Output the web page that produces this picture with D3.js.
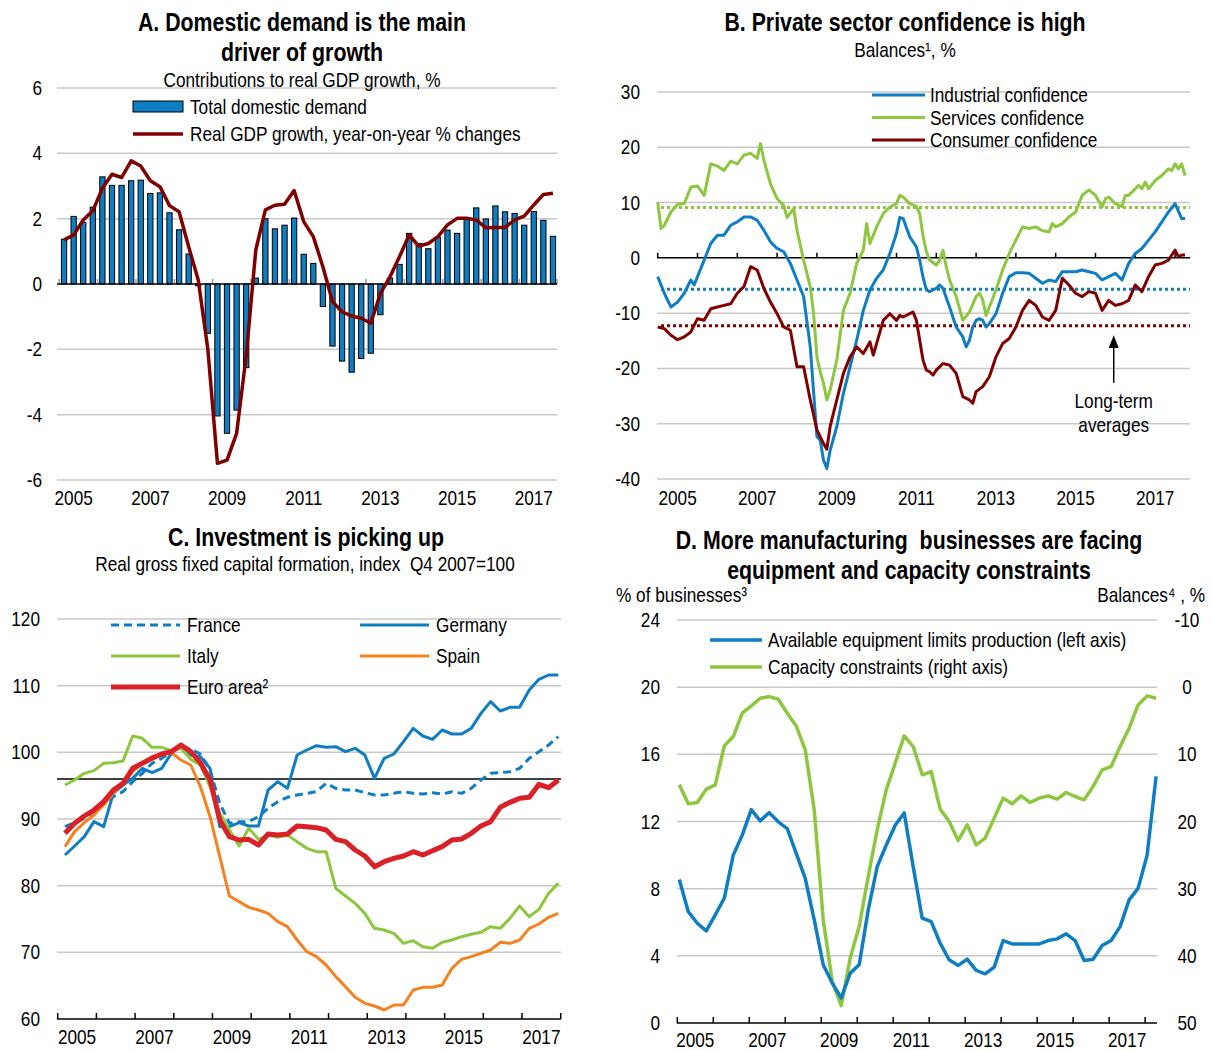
<!DOCTYPE html>
<html>
<head>
<meta charset="utf-8">
<script src="https://cdn.jsdelivr.net/npm/d3@7"></script>
<style>
body { margin: 0; background: #fff; }
text { font-family: "Liberation Sans", Arial, sans-serif; fill: #000; white-space: pre; }
</style>
</head>
<body>
<svg id="chart" width="1212" height="1050"></svg>
<script>
const YEARS = [2005, 2006, 2007, 2008, 2009, 2010, 2011, 2012, 2013, 2014, 2015, 2016, 2017]
const YEAR_LABELS = [2005, 2007, 2009, 2011, 2013, 2015, 2017]

// A. contributions to growth, quarterly 2005Q1-2017Q4
const quartersA = YEARS.flatMap(y => [1, 2, 3, 4].map(q => y + 'Q' + q))
const domesticDemand = [1.37, 2.07, 1.89, 2.35, 3.28, 3.02, 3.02, 3.16, 3.18, 2.77, 2.79, 2.18,
    1.66, 0.92, -0.05, -1.51, -4.04, -4.57, -3.86, -2.56, 0.18, 2.0, 1.69, 1.80,
    2.02, 0.91, 0.63, -0.69, -1.90, -2.36, -2.70, -2.28, -2.12, -0.94, 0.18, 0.60,
    1.55, 1.24, 1.08, 1.43, 1.65, 1.55, 2.0, 2.33, 1.99, 2.39, 2.21, 2.16, 1.80, 2.22, 1.95, 1.46]
const gdpGrowth = [1.35, 1.50, 1.96, 2.24, 2.93, 3.36, 3.26, 3.77, 3.61, 3.16, 2.98, 2.40,
    2.21, 1.14, 0.12, -2.0, -5.49, -5.39, -4.57, -2.2, 1.04, 2.27, 2.41, 2.44,
    2.86, 1.91, 1.45, 0.53, -0.54, -0.85, -0.98, -1.05, -1.20, -0.29, 0.22, 0.84,
    1.50, 1.16, 1.24, 1.45, 1.81, 2.01, 2.01, 1.96, 1.72, 1.73, 1.73, 1.96, 2.08, 2.42, 2.74, 2.78]
const ticksA = [-6, -4, -2, 0, 2, 4, 6]

// B. confidence balances, [months since Jan 2005, value]
const industrial = [[0,-3.4],[2,-6.4],[4,-8.9],[6,-8.0],[8,-6.4],[10,-4.0],[11,-4.9],[12,-3.4],[14,-0.4],[16,2.6],
    [18,4.1],[20,4.1],[22,5.9],[24,6.5],[26,7.4],[28,7.4],[30,6.8],[32,5.0],[34,2.9],[36,1.7],[38,1.1],[40,-1.0],
    [42,-4.0],[44,-7.0],[46,-16.1],[48,-32.3],[49,-33.0],[50,-36.6],[51,-38.1],[52,-34.8],[54,-30.5],[56,-24.5],
    [58,-19.7],[60,-14.9],[62,-9.5],[64,-5.8],[66,-3.7],[68,-2.2],[70,0.8],[72,4.4],[73,7.3],[74,7.1],[76,3.8],
    [78,2.0],[79,-0.4],[80,-3.5],[81,-5.8],[82,-6.1],[84,-5.5],[85,-4.9],[86,-5.5],[88,-8.9],[90,-12.5],[92,-14.3],
    [93,-16.1],[94,-14.9],[95,-12.5],[96,-11.3],[97,-11.0],[98,-11.3],[99,-12.5],[100,-11.9],[102,-10.1],[104,-6.4],
    [106,-3.4],[108,-2.7],[110,-2.7],[112,-2.8],[114,-3.7],[116,-4.6],[118,-4.0],[120,-4.3],[122,-2.5],[124,-2.5],
    [126,-2.5],[128,-2.2],[130,-2.5],[132,-2.8],[134,-4.0],[136,-3.4],[138,-2.8],[140,-4.0],[142,-1.0],[144,0.8],
    [146,1.7],[148,3.2],[150,4.7],[152,6.5],[154,8.3],[156,9.8],[158,7.1],[159,7.1]]
const services = [[0,10.1],[1,5.3],[2,5.9],[4,8.3],[6,9.7],[8,9.8],[10,12.8],[12,13.0],[14,11.3],[16,17.0],[18,16.6],
    [20,15.8],[22,17.5],[24,17.0],[26,18.6],[28,18.9],[30,18.0],[31,20.7],[32,17.7],[34,13.4],[36,10.7],[38,9.5],
    [39,7.3],[41,8.9],[42,5.0],[44,-0.4],[46,-5.2],[47,-10.0],[48,-17.9],[49,-20.6],[50,-22.7],[51,-25.7],
    [52,-23.9],[54,-18.5],[56,-9.5],[58,-6.4],[60,-1.0],[62,1.4],[63,6.2],[64,2.6],[66,5.6],[68,8.0],[70,9.2],
    [72,9.8],[73,11.3],[74,11.0],[76,9.8],[78,9.3],[79,8.0],[80,4.0],[81,1.1],[82,-0.4],[84,-1.3],[85,-0.4],
    [86,1.4],[87,-1.6],[88,-4.0],[90,-7.0],[92,-11.3],[94,-9.8],[96,-7.0],[97,-6.4],[98,-7.6],[99,-10.4],
    [100,-8.9],[102,-5.8],[104,-2.2],[106,0.8],[108,3.2],[110,5.6],[112,5.3],[114,5.6],[116,4.9],[118,4.7],
    [119,6.2],[120,5.6],[122,6.2],[124,7.4],[126,8.3],[128,11.3],[130,12.3],[132,11.3],[134,9.2],[135,10.7],
    [136,11.0],[138,9.8],[140,9.3],[141,11.3],[142,11.3],[144,12.5],[145,13.1],[146,12.5],[147,13.7],[148,12.5],
    [150,14.0],[152,14.9],[154,16.1],[155,15.8],[156,17.0],[157,16.1],[158,17.0],[159,14.9]]
const consumer = [[0,-12.5],[2,-12.8],[4,-14.0],[6,-14.8],[8,-14.3],[10,-13.4],[12,-11.0],[14,-11.3],[16,-9.2],
    [18,-8.9],[20,-8.6],[22,-8.3],[24,-6.4],[26,-5.2],[28,-1.6],[30,-2.2],[32,-5.5],[34,-8.0],[36,-10.1],
    [38,-12.5],[40,-13.1],[42,-19.7],[44,-19.7],[46,-25.7],[48,-31.1],[50,-33.6],[51,-34.6],[52,-30.5],
    [54,-25.7],[56,-20.9],[58,-17.9],[60,-16.1],[62,-17.3],[64,-15.2],[65,-17.6],[66,-15.5],[68,-11.3],
    [70,-10.1],[72,-11.3],[73,-10.4],[74,-10.7],[76,-10.1],[77,-9.8],[78,-11.3],[79,-14.9],[80,-18.5],
    [81,-20.3],[82,-20.6],[83,-21.2],[84,-20.3],[86,-19.1],[88,-19.4],[90,-20.9],[92,-25.1],[94,-25.7],
    [95,-26.3],[96,-24.2],[98,-23.3],[100,-21.5],[102,-17.9],[104,-15.5],[106,-14.6],[108,-12.5],[110,-9.5],
    [112,-7.7],[114,-8.6],[116,-10.7],[118,-11.3],[120,-9.5],[122,-3.7],[124,-4.9],[126,-6.4],[128,-7.0],
    [130,-6.1],[132,-6.4],[134,-9.5],[136,-7.7],[138,-8.6],[140,-8.3],[142,-7.7],[144,-4.9],[146,-6.1],
    [148,-3.4],[150,-1.3],[152,-1.0],[154,-0.4],[156,1.4],[157,0.2],[158,0.5],[159,0.5]]
const averagesB = [-5.7, 9.1, -12.3]   // industrial, services, consumer
const ticksB = [-40, -30, -20, -10, 0, 10, 20, 30]

// C. real GFCF, quarterly 2005Q1-2017Q4
const france = [88.85, 89.45, 90.1, 91.1, 92.35, 93.35, 94.1, 95.6, 96.85, 98.35, 99.1, 100.1, 100.85, 100.45,
    99.75, 97.35, 92.35, 89.35, 89.6, 89.6, 90.35, 91.6, 92.6, 93.25, 93.6, 93.85, 94.1, 95.35, 94.6, 94.35,
    94.35, 93.95, 93.6, 93.6, 93.85, 94.1, 93.85, 93.75, 93.95, 93.75, 94.1, 93.85, 94.6, 95.85, 96.85, 96.95,
    97.1, 97.6, 99.1, 100.1, 101.1, 102.35]
const germany = [84.6, 85.95, 87.35, 89.6, 88.85, 93.85, 95.1, 96.1, 97.6, 96.95, 97.6, 99.85, 101.25, 99.6,
    99.35, 97.6, 88.85, 88.85, 89.45, 88.95, 88.95, 94.35, 95.6, 94.6, 99.6, 100.35, 101.0, 100.75, 100.85,
    100.1, 100.6, 99.6, 96.1, 99.1, 99.75, 101.6, 103.6, 102.45, 101.95, 103.35, 102.75, 102.75, 103.6, 105.85,
    107.6, 106.2, 106.75, 106.75, 109.35, 110.95, 111.6, 111.6]
const italy = [95.1, 95.85, 96.85, 97.25, 98.35, 98.45, 98.7, 102.45, 102.1, 100.75, 100.75, 100.25, 100.6,
    98.95, 98.1, 94.85, 90.85, 88.35, 85.95, 88.6, 86.95, 87.6, 87.25, 87.6, 86.6, 85.6, 85.1, 85.1, 79.6,
    78.45, 77.35, 75.85, 73.6, 73.35, 72.85, 71.35, 71.75, 70.85, 70.6, 71.5, 71.85, 72.35, 72.7, 73.0, 73.85,
    73.6, 75.1, 76.95, 75.35, 76.45, 78.85, 80.35]
const spain = [85.85, 88.1, 89.45, 90.6, 92.1, 93.85, 95.45, 97.1, 98.35, 99.35, 99.75, 99.95, 98.85, 98.1,
    94.85, 90.35, 84.35, 78.45, 77.6, 76.75, 76.35, 75.85, 74.6, 73.85, 71.85, 70.1, 69.35, 68.1, 66.35, 64.85,
    63.25, 62.35, 61.95, 61.35, 62.1, 62.1, 64.35, 64.75, 64.75, 65.1, 67.6, 68.95, 69.35, 69.85, 70.35, 71.5,
    71.35, 71.85, 73.6, 74.25, 75.25, 75.85]
const euroArea = [87.85, 89.35, 90.45, 91.35, 92.6, 94.35, 95.35, 97.6, 98.35, 99.1, 99.75, 100.1, 101.1,
    100.1, 98.45, 95.85, 89.85, 87.35, 86.85, 86.95, 86.1, 87.75, 87.6, 87.75, 88.95, 88.85, 88.7, 88.35, 86.95,
    86.6, 85.35, 84.45, 82.85, 83.6, 84.1, 84.45, 85.1, 84.6, 85.25, 85.85, 86.85, 87.0, 87.85, 88.95, 89.6,
    91.75, 92.5, 93.1, 93.25, 95.2, 94.7, 95.85]
const referenceC = 96
const ticksC = [60, 70, 80, 90, 100, 110, 120]

// D. manufacturing constraints, quarterly 2005Q1-2018Q2
const equipmentLimits = [8.55, 6.63, 5.94, 5.49, 6.44, 7.43, 10.0, 11.19, 12.71, 12.04, 12.53, 11.98, 11.58,
    10.1, 8.61, 6.14, 3.47, 2.38, 1.49, 2.97, 3.47, 6.73, 9.31, 10.59, 11.78, 12.51, 9.31, 6.24, 6.04, 4.75,
    3.76, 3.43, 3.8, 3.13, 2.93, 3.33, 4.91, 4.71, 4.71, 4.71, 4.71, 4.91, 5.01, 5.31, 4.91, 3.72, 3.8, 4.61,
    4.91, 5.74, 7.33, 8.02, 10.0, 14.69]
const capacityConstraints = [14.54, 17.37, 17.17, 15.19, 14.54, 8.74, 7.35, 3.88, 2.79, 1.65, 1.40, 1.80, 3.88,
    5.77, 9.34, 18.26, 34.62, 43.79, 47.41, 40.32, 35.61, 28.18, 21.23, 15.29, 11.32, 7.25, 8.84, 13.05, 12.56,
    18.16, 19.99, 22.82, 20.49, 23.47, 22.47, 19.5, 16.52, 17.37, 16.18, 17.17, 16.52, 16.18, 16.67, 15.68,
    16.28, 16.77, 14.79, 12.31, 11.81, 8.84, 6.11, 2.64, 1.3, 1.65]
const ticksDLeft = [0, 4, 8, 12, 16, 20, 24]
const ticksDRight = [-10, 0, 10, 20, 30, 40, 50]

const BLUE = '#0f7dc2', GREEN = '#8dc63f', DARKRED = '#800000', ORANGE = '#f58220', RED = '#da2128'
const GRID = '#c8c8c8'
const FS = 21
const NARROW = 0.82   // Arial Narrow look from Liberation Sans

const svg = d3.select('#chart')

function txt(g, x, y, s, anchor, size, bold) {
    return g.append('text')
        .attr('x', x).attr('y', y)
        .attr('text-anchor', anchor || 'start')
        .attr('font-size', size || FS)
        .attr('font-weight', bold ? 'bold' : null)
        .text(s)
}

function hlines(g, vals, y, x1, x2, color) {
    g.append('g').selectAll('line').data(vals).join('line')
        .attr('x1', x1).attr('x2', x2)
        .attr('y1', d => y(d)).attr('y2', d => y(d))
        .attr('stroke', color || GRID).attr('stroke-width', 1.5)
}

function drawA() {
    const g = svg.append('g')
    const x = d3.scaleBand().domain(quartersA).range([59.5, 557.5]).paddingInner(0.45).paddingOuter(0.2)
    const y = d3.scaleLinear().domain([-6, 6]).range([480, 88])
    const cx = q => x(q) + x.bandwidth() / 2
    const gap = (x.step() - x.bandwidth()) / 2

    hlines(g, ticksA.filter(t => t !== 0), y, 57, 557)
    g.append('g').selectAll('text').data(ticksA).join('text')
        .attr('x', 42).attr('y', d => y(d) + 7).attr('text-anchor', 'end')
        .attr('font-size', FS).text(d => d)

    g.append('g').selectAll('line').data(YEARS.concat([2018])).join('line')
        .attr('x1', d => d === 2018 ? 557 : x(d + 'Q1') - gap)
        .attr('x2', d => d === 2018 ? 557 : x(d + 'Q1') - gap)
        .attr('y1', y(0)).attr('y2', y(0) - 5)
        .attr('stroke', '#999').attr('stroke-width', 1.5)

    g.append('g').selectAll('rect').data(domesticDemand).join('rect')
        .attr('x', (d, i) => x(quartersA[i]))
        .attr('width', x.bandwidth())
        .attr('y', d => Math.min(y(d), y(0)))
        .attr('height', d => Math.abs(y(d) - y(0)))
        .attr('fill', BLUE).attr('stroke', '#000').attr('stroke-width', 1)

    hlines(g, [0], y, 57, 557, '#000')

    g.append('path').datum(gdpGrowth)
        .attr('d', d3.line().x((d, i) => cx(quartersA[i])).y(d => y(d)))
        .attr('fill', 'none').attr('stroke', DARKRED).attr('stroke-width', 3.5)
        .attr('stroke-linejoin', 'round')

    g.append('g').selectAll('text').data(YEAR_LABELS).join('text')
        .attr('x', d => cx(d + 'Q2')).attr('y', 505).attr('text-anchor', 'middle')
        .attr('font-size', FS).text(d => d)

    txt(g, 302, 31, 'A. Domestic demand is the main', 'middle', 26, true)
    txt(g, 302, 61, 'driver of growth', 'middle', 26, true)
    txt(g, 302, 87, 'Contributions to real GDP growth, %', 'middle')

    g.append('rect').attr('x', 133).attr('y', 101).attr('width', 50).attr('height', 11)
        .attr('fill', BLUE).attr('stroke', '#000').attr('stroke-width', 1)
    txt(g, 190, 114, 'Total domestic demand')
    g.append('line').attr('x1', 133).attr('x2', 183).attr('y1', 134).attr('y2', 134)
        .attr('stroke', DARKRED).attr('stroke-width', 3.5)
    txt(g, 190, 141, 'Real GDP growth, year-on-year % changes')
}

function drawB() {
    const g = svg.append('g')
    const x = d3.scaleLinear().domain([0, 160.5]).range([657.7, 1190])
    const y = d3.scaleLinear().domain([-40, 30]).range([479, 92])

    hlines(g, ticksB.filter(t => t !== 0), y, 657, 1190)
    g.append('g').selectAll('text').data(ticksB).join('text')
        .attr('x', 640).attr('y', d => y(d) + 7).attr('text-anchor', 'end')
        .attr('font-size', FS).text(d => d)
    hlines(g, [0], y, 657, 1190, '#000')
    g.append('g').selectAll('line').data(YEARS.concat([2018])).join('line')
        .attr('x1', d => x((d - 2005) * 12)).attr('x2', d => x((d - 2005) * 12))
        .attr('y1', y(0)).attr('y2', y(0) - 5)
        .attr('stroke', '#000').attr('stroke-width', 1.5)

    const colors = [BLUE, GREEN, DARKRED]
    g.append('g').selectAll('line').data(averagesB).join('line')
        .attr('x1', x(1)).attr('x2', 1190)
        .attr('y1', d => y(d)).attr('y2', d => y(d))
        .attr('stroke', (d, i) => colors[i]).attr('stroke-width', 3)
        .attr('stroke-dasharray', '3,3')

    const line = d3.line().x(d => x(d[0])).y(d => y(d[1]))
    ;[industrial, services, consumer].forEach((s, i) => {
        g.append('path').datum(s).attr('d', line)
            .attr('fill', 'none').attr('stroke', colors[i]).attr('stroke-width', 3)
            .attr('stroke-linejoin', 'round')
    })

    g.append('g').selectAll('text').data(YEAR_LABELS).join('text')
        .attr('x', d => x((d - 2005) * 12 + 6)).attr('y', 505).attr('text-anchor', 'middle')
        .attr('font-size', FS).text(d => d)

    txt(g, 905, 31, 'B. Private sector confidence is high', 'middle', 26, true)
    txt(g, 905, 57, 'Balances¹, %', 'middle')

    const names = ['Industrial confidence', 'Services confidence', 'Consumer confidence']
    names.forEach((n, i) => {
        const ly = 95 + i * 22.5
        g.append('line').attr('x1', 872).attr('x2', 925).attr('y1', ly).attr('y2', ly)
            .attr('stroke', colors[i]).attr('stroke-width', 3)
        txt(g, 930, ly + 7, n)
    })

    // arrow pointing to the long-term averages
    const ax = x(137.5)
    g.append('line').attr('x1', ax).attr('x2', ax).attr('y1', y(-22.6)).attr('y2', y(-15.5))
        .attr('stroke', '#000').attr('stroke-width', 1.5)
    g.append('path')
        .attr('d', `M${ax},${y(-14)} L${ax - 5},${y(-16.3)} L${ax + 5},${y(-16.3)} Z`)
        .attr('fill', '#000')
    txt(g, ax, 408, 'Long-term', 'middle')
    txt(g, ax, 432, 'averages', 'middle')
}

function drawC() {
    const g = svg.append('g')
    const x = d3.scaleLinear().domain([2005, 2018]).range([57.7, 560.7])
    const y = d3.scaleLinear().domain([60, 120]).range([1019, 619])
    const tx = i => x(2005 + (i + 0.75) / 4)

    hlines(g, ticksC.filter(t => t !== 60), y, 57, 561)
    g.append('g').selectAll('text').data(ticksC).join('text')
        .attr('x', 40).attr('y', d => y(d) + 7).attr('text-anchor', 'end')
        .attr('font-size', FS).text(d => d)
    hlines(g, [60, referenceC], y, 57, 561, '#000')
    g.append('g').selectAll('line').data(YEARS.concat([2018])).join('line')
        .attr('x1', d => x(d)).attr('x2', d => x(d))
        .attr('y1', y(60)).attr('y2', y(60) - 6)
        .attr('stroke', '#000').attr('stroke-width', 1.5)

    const line = d3.line().x((d, i) => tx(i)).y(d => y(d))
    const series = [
        { data: france, color: BLUE, w: 3, dash: '8,5' },
        { data: germany, color: BLUE, w: 3 },
        { data: italy, color: GREEN, w: 3 },
        { data: spain, color: ORANGE, w: 3 },
        { data: euroArea, color: RED, w: 5 }
    ]
    series.forEach(s => {
        g.append('path').datum(s.data).attr('d', line)
            .attr('fill', 'none').attr('stroke', s.color).attr('stroke-width', s.w)
            .attr('stroke-dasharray', s.dash || null).attr('stroke-linejoin', 'round')
    })

    g.append('g').selectAll('text').data(YEAR_LABELS).join('text')
        .attr('x', d => x(d + 0.5)).attr('y', 1044).attr('text-anchor', 'middle')
        .attr('font-size', FS).text(d => d)

    txt(g, 306, 546, 'C. Investment is picking up', 'middle', 26, true)
    txt(g, 305, 571, 'Real gross fixed capital formation, index  Q4 2007=100', 'middle')

    const legend = [
        { name: 'France', x: 111, y: 625, s: series[0] },
        { name: 'Italy', x: 111, y: 656, s: series[2] },
        { name: 'Euro area²', x: 111, y: 687, s: series[4] },
        { name: 'Germany', x: 360, y: 625, s: series[1] },
        { name: 'Spain', x: 360, y: 656, s: series[3] }
    ]
    legend.forEach(l => {
        g.append('line').attr('x1', l.x).attr('x2', l.x + 69).attr('y1', l.y).attr('y2', l.y)
            .attr('stroke', l.s.color).attr('stroke-width', l.s.w)
            .attr('stroke-dasharray', l.s.dash || null)
        txt(g, l.x + 76, l.y + 7, l.name)
    })
}

function drawD() {
    const g = svg.append('g')
    const x = d3.scaleLinear().domain([2005, 2018.33]).range([677.3, 1157])
    const yL = d3.scaleLinear().domain([0, 24]).range([1023, 620])
    const yR = d3.scaleLinear().domain([50, -10]).range([1023, 620])
    const tx = i => x(2005 + 0.055 + i / 4)

    hlines(g, ticksDLeft.filter(t => t !== 0), yL, 677, 1157)
    hlines(g, [0], yL, 677, 1157, '#000')
    g.append('g').selectAll('line').data(YEARS.concat([2018])).join('line')
        .attr('x1', d => x(d)).attr('x2', d => x(d))
        .attr('y1', yL(0)).attr('y2', yL(0) - 6)
        .attr('stroke', '#000').attr('stroke-width', 1.5)
    g.append('g').selectAll('text').data(ticksDLeft).join('text')
        .attr('x', 660).attr('y', d => yL(d) + 7).attr('text-anchor', 'end')
        .attr('font-size', FS).text(d => d)
    g.append('g').selectAll('text').data(ticksDRight).join('text')
        .attr('x', 1187).attr('y', d => yR(d) + 7).attr('text-anchor', 'middle')
        .attr('font-size', FS).text(d => d)

    g.append('path').datum(capacityConstraints)
        .attr('d', d3.line().x((d, i) => tx(i)).y(d => yR(d)))
        .attr('fill', 'none').attr('stroke', GREEN).attr('stroke-width', 3.5)
        .attr('stroke-linejoin', 'round')
    g.append('path').datum(equipmentLimits)
        .attr('d', d3.line().x((d, i) => tx(i)).y(d => yL(d)))
        .attr('fill', 'none').attr('stroke', BLUE).attr('stroke-width', 3.5)
        .attr('stroke-linejoin', 'round')

    g.append('g').selectAll('text').data(YEAR_LABELS).join('text')
        .attr('x', d => x(d + 0.5)).attr('y', 1047).attr('text-anchor', 'middle')
        .attr('font-size', FS).text(d => d)

    txt(g, 909, 549, 'D. More manufacturing  businesses are facing', 'middle', 26, true)
    txt(g, 909, 579, 'equipment and capacity constraints', 'middle', 26, true)
    txt(g, 616, 602, '% of businesses³')
    txt(g, 1205, 602, 'Balances⁴ , %', 'end')

    g.append('line').attr('x1', 710).attr('x2', 762).attr('y1', 640).attr('y2', 640)
        .attr('stroke', BLUE).attr('stroke-width', 3.5)
    txt(g, 768, 647, 'Available equipment limits production (left axis)')
    g.append('line').attr('x1', 710).attr('x2', 762).attr('y1', 667).attr('y2', 667)
        .attr('stroke', GREEN).attr('stroke-width', 3.5)
    txt(g, 768, 674, 'Capacity constraints (right axis)')
}

drawA()
drawB()
drawC()
drawD()

// squeeze every label horizontally, keeping its anchor point
svg.selectAll('text').each(function () {
    const t = d3.select(this)
    const x = +t.attr('x'), y = +t.attr('y')
    t.attr('transform', `translate(${x},${y}) scale(${NARROW},1)`).attr('x', 0).attr('y', 0)
})
</script>
</body>
</html>
